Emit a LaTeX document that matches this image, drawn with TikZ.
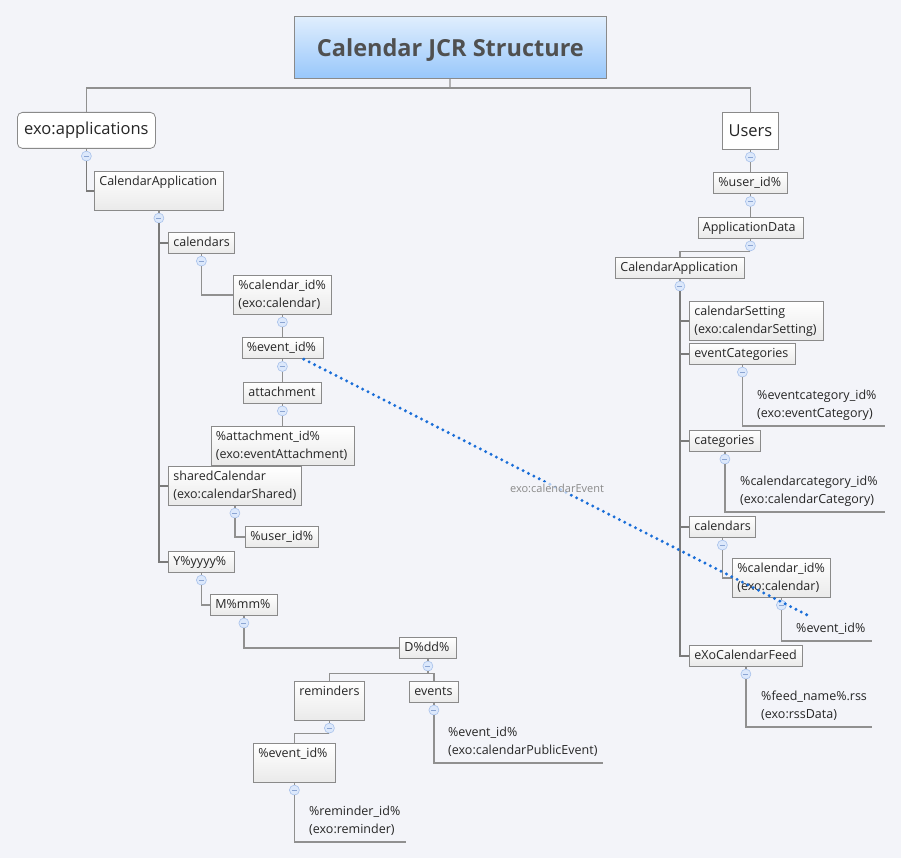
\documentclass[tikz,border=0pt]{standalone}
\usepackage{fontspec}
\setmainfont{Open Sans}
\usetikzlibrary{positioning}
\definecolor{bgc}{HTML}{F3F4F9}
\definecolor{boxline}{HTML}{8A8A8A}
\definecolor{boxbot}{HTML}{EAEAEA}
\definecolor{connc}{HTML}{909090}
\definecolor{txt}{HTML}{262626}
\definecolor{titletxt}{HTML}{505050}
\definecolor{titletop}{HTML}{E0EEFD}
\definecolor{titlebot}{HTML}{98C7FB}
\definecolor{mkfill}{HTML}{DCE8FB}
\definecolor{mkline}{HTML}{A7C1EB}
\definecolor{mkminus}{HTML}{8BA5D3}
\definecolor{relc}{HTML}{1A6ED8}
\definecolor{labc}{HTML}{8A8A8A}

\begin{document}
\begin{tikzpicture}[x=1pt,y=-1pt,
  box/.style={draw=boxline, line width=0.8pt, top color=white, bottom color=boxbot,
    anchor=north west, inner xsep=5pt, inner ysep=1pt, text width=#1, minimum height=21pt,
    align=left, text=txt, font=\fontsize{12.5}{18}\selectfont,
    execute at begin node=\strut, execute at end node=\strut},
  tall/.style={minimum height=39pt},
  root/.style={draw=boxline, line width=0.8pt, fill=white, anchor=north west,
    minimum height=36pt, text=txt, font=\fontsize{16.5}{19}\selectfont},
  leaf/.style={anchor=south west, inner xsep=0pt, inner ysep=3pt, text width=#1,
    align=left, text=txt, font=\fontsize{12.5}{18}\selectfont,
    execute at begin node=\strut, execute at end node=\strut},
  mk/.style={circle, draw=mkline, fill=mkfill, line width=0.6pt, minimum size=10pt,
    inner sep=0pt, below=2pt of #1,
    path picture={\draw[mkminus, line width=0.8pt]
      ([xshift=-2.5pt]path picture bounding box.center) --
      ([xshift=2.5pt]path picture bounding box.center);}},
  conn/.style={draw=connc, line width=1.2pt},
  trunk/.style={draw=connc!85!black, line width=1.6pt},
  rel/.style={draw=relc, line width=3.3pt, line cap=round, dash pattern=on 0pt off 6pt},
  rellab/.style={fill=bgc, fill opacity=0.7, text opacity=1, text=labc, inner sep=2pt,
    font=\fontsize{11}{13}\selectfont}]

\fill[bgc] (0,0) rectangle (901,858);
\useasboundingbox (0,0) rectangle (901,858);

% title and the two roots
\node[draw=boxline, line width=0.8pt, top color=titletop, bottom color=titlebot,
  anchor=north west, minimum width=312pt, minimum height=62pt, text=titletxt,
  text height=18pt, text depth=0pt,
  font=\fontsize{23.5}{26}\selectfont\bfseries] (title) at (294,16) {Calendar JCR Structure};
\node[root, rounded corners=5pt, minimum width=138pt] (exoapp) at (17,112) {exo:applications};
\node[root, minimum width=56pt, minimum height=37pt] (users) at (722,112) {Users};
\coordinate (top) at (450,88);

% left tree
\node[mk=exoapp] (exoapp-m) {};
\node[box=119pt, tall] (capl) at (94,171) {CalendarApplication\\\mbox{}};
\node[mk=capl] (capl-m) {};
\node[box=56pt] (cals) at (168,232) {calendars};
\node[mk=cals] (cals-m) {};
\node[box=88pt, tall] (calid) at (233,275) {\%calendar\_id\%\\(exo:calendar)};
\node[mk=calid] (calid-m) {};
\node[box=71pt, below=10pt of calid-m] (evid) {\%event\_id\%};
\node[mk=evid] (evid-m) {};
\node[box=68pt, below=10pt of evid-m] (att) {attachment};
\node[mk=att] (att-m) {};
\node[box=133pt, tall, below=10pt of att-m] (attid) {\%attachment\_id\%\\(exo:eventAttachment)};
\node[box=123pt, tall] (shcal) at (168,466) {sharedCalendar\\(exo:calendarShared)};
\node[mk=shcal] (shcal-m) {};
\node[box=63pt] (shuser) at (245,526) {\%user\_id\%};
\node[box=56pt] (year) at (168,551) {Y\%yyyy\%};
\node[mk=year] (year-m) {};
\node[box=57pt] (month) at (210,594) {M\%mm\%};
\node[mk=month] (month-m) {};
\node[box=47pt] (day) at (399,637) {D\%dd\%};
\node[mk=day] (day-m) {};
\node[box=60pt, tall] (rem) at (294,681) {reminders\\\mbox{}};
\node[mk=rem] (rem-m) {};
\node[box=39pt] (evs) at (409,681) {events};
\node[mk=evs] (evs-m) {};
\node[box=72pt, tall] (remev) at (253,743) {\%event\_id\%\\\mbox{}};
\node[mk=remev] (remev-m) {};
\node[leaf=97pt] (remid) at (309,842) {\%reminder\_id\%\\(exo:reminder)};
\node[leaf=155pt] (pubev) at (448,763) {\%event\_id\%\\(exo:calendarPublicEvent)};

% right tree
\node[mk=users] (users-m) {};
\node[box=64pt, below=10pt of users-m] (uid) {\%user\_id\%};
\node[mk=uid] (uid-m) {};
\node[box=95pt, below=10pt of uid-m] (appd) {ApplicationData};
\node[mk=appd] (appd-m) {};
\node[box=119pt] (capr) at (615,257) {CalendarApplication};
\node[mk=capr] (capr-m) {};
\node[box=124pt, tall] (cset) at (689,301) {calendarSetting\\(exo:calendarSetting)};
\node[box=96pt] (evcat) at (689,343) {eventCategories};
\node[mk=evcat] (evcat-m) {};
\node[leaf=128pt] (evcatid) at (757,426) {\%eventcategory\_id\%\\(exo:eventCategory)};
\node[box=61pt] (cats) at (689,430) {categories};
\node[mk=cats] (cats-m) {};
\node[leaf=145pt] (calcatid) at (740,512) {\%calendarcategory\_id\%\\(exo:calendarCategory)};
\node[box=56pt] (calsr) at (689,516) {calendars};
\node[mk=calsr] (calsr-m) {};
\node[box=88pt, tall] (calidr) at (732,558) {\%calendar\_id\%\\(exo:calendar)};
\node[mk=calidr] (calidr-m) {};
\node[leaf=76pt] (evidr) at (796,641) {\%event\_id\%};
\node[box=103pt] (feed) at (689,645) {eXoCalendarFeed};
\node[mk=feed] (feed-m) {};
\node[leaf=111pt] (feedid) at (761,727) {\%feed\_name\%.rss\\(exo:rssData)};

% connectors
\draw[conn] (title) -- (top);
\draw[conn] (top) -| (exoapp);
\draw[conn] (top) -| (users);
\draw[conn] (exoapp) -- (exoapp-m);
\draw[trunk] (exoapp-m) |- (capl.west);
\draw[conn] (capl) -- (capl-m);
\foreach \n in {cals,shcal,year}
  \draw[trunk] (capl-m) |- (\n.west);
\draw[conn] (cals) -- (cals-m);
\draw[conn] (cals-m) |- (calid.west);
\draw[conn] (calid) -- (calid-m);
\draw[conn] (calid-m) -- (evid);
\draw[conn] (evid) -- (evid-m);
\draw[conn] (evid-m) -- (att);
\draw[conn] (att) -- (att-m);
\draw[conn] (att-m) -- (attid);
\draw[conn] (shcal) -- (shcal-m);
\draw[conn] (shcal-m) |- (shuser.west);
\draw[conn] (year) -- (year-m);
\draw[conn] (year-m) |- (month.west);
\draw[conn] (month) -- (month-m);
\draw[conn] (month-m) |- (day.west);
\draw[conn] (day) -- (day-m);
\draw[conn] (day-m.south) -- ++(0,2) coordinate (dayj);
\draw[conn] (dayj) -| (rem);
\draw[conn] (dayj) -| (evs);
\draw[conn] (rem) -- (rem-m);
\draw[conn] (rem-m.south) -| (remev);
\draw[conn] (remev) -- (remev-m);
\draw[conn] (remev-m) |- (remid.south east);
\draw[conn] (evs) -- (evs-m);
\draw[conn] (evs-m) |- (pubev.south east);

\draw[conn] (users) -- (users-m);
\draw[conn] (users-m) -- (uid);
\draw[conn] (uid) -- (uid-m);
\draw[conn] (uid-m) -- (appd);
\draw[conn] (appd) -- (appd-m);
\draw[conn] (appd-m.south) -| (capr);
\draw[conn] (capr) -- (capr-m);
\foreach \n in {cset,evcat,cats,calsr,feed}
  \draw[trunk] (capr-m) |- (\n.west);
\draw[conn] (evcat) -- (evcat-m);
\draw[conn] (evcat-m) |- (evcatid.south east);
\draw[conn] (cats) -- (cats-m);
\draw[conn] (cats-m) |- (calcatid.south east);
\draw[conn] (calsr) -- (calsr-m);
\draw[conn] (calsr-m) |- (calidr.west);
\draw[conn] (calidr) -- (calidr-m);
\draw[conn] (calidr-m) |- (evidr.south east);
\draw[conn] (feed) -- (feed-m);
\draw[conn] (feed-m) |- (feedid.south east);

% relationship
\draw[rel] (evid) -- node[rellab]{exo:calendarEvent} (evidr);
\end{tikzpicture}
\end{document}
